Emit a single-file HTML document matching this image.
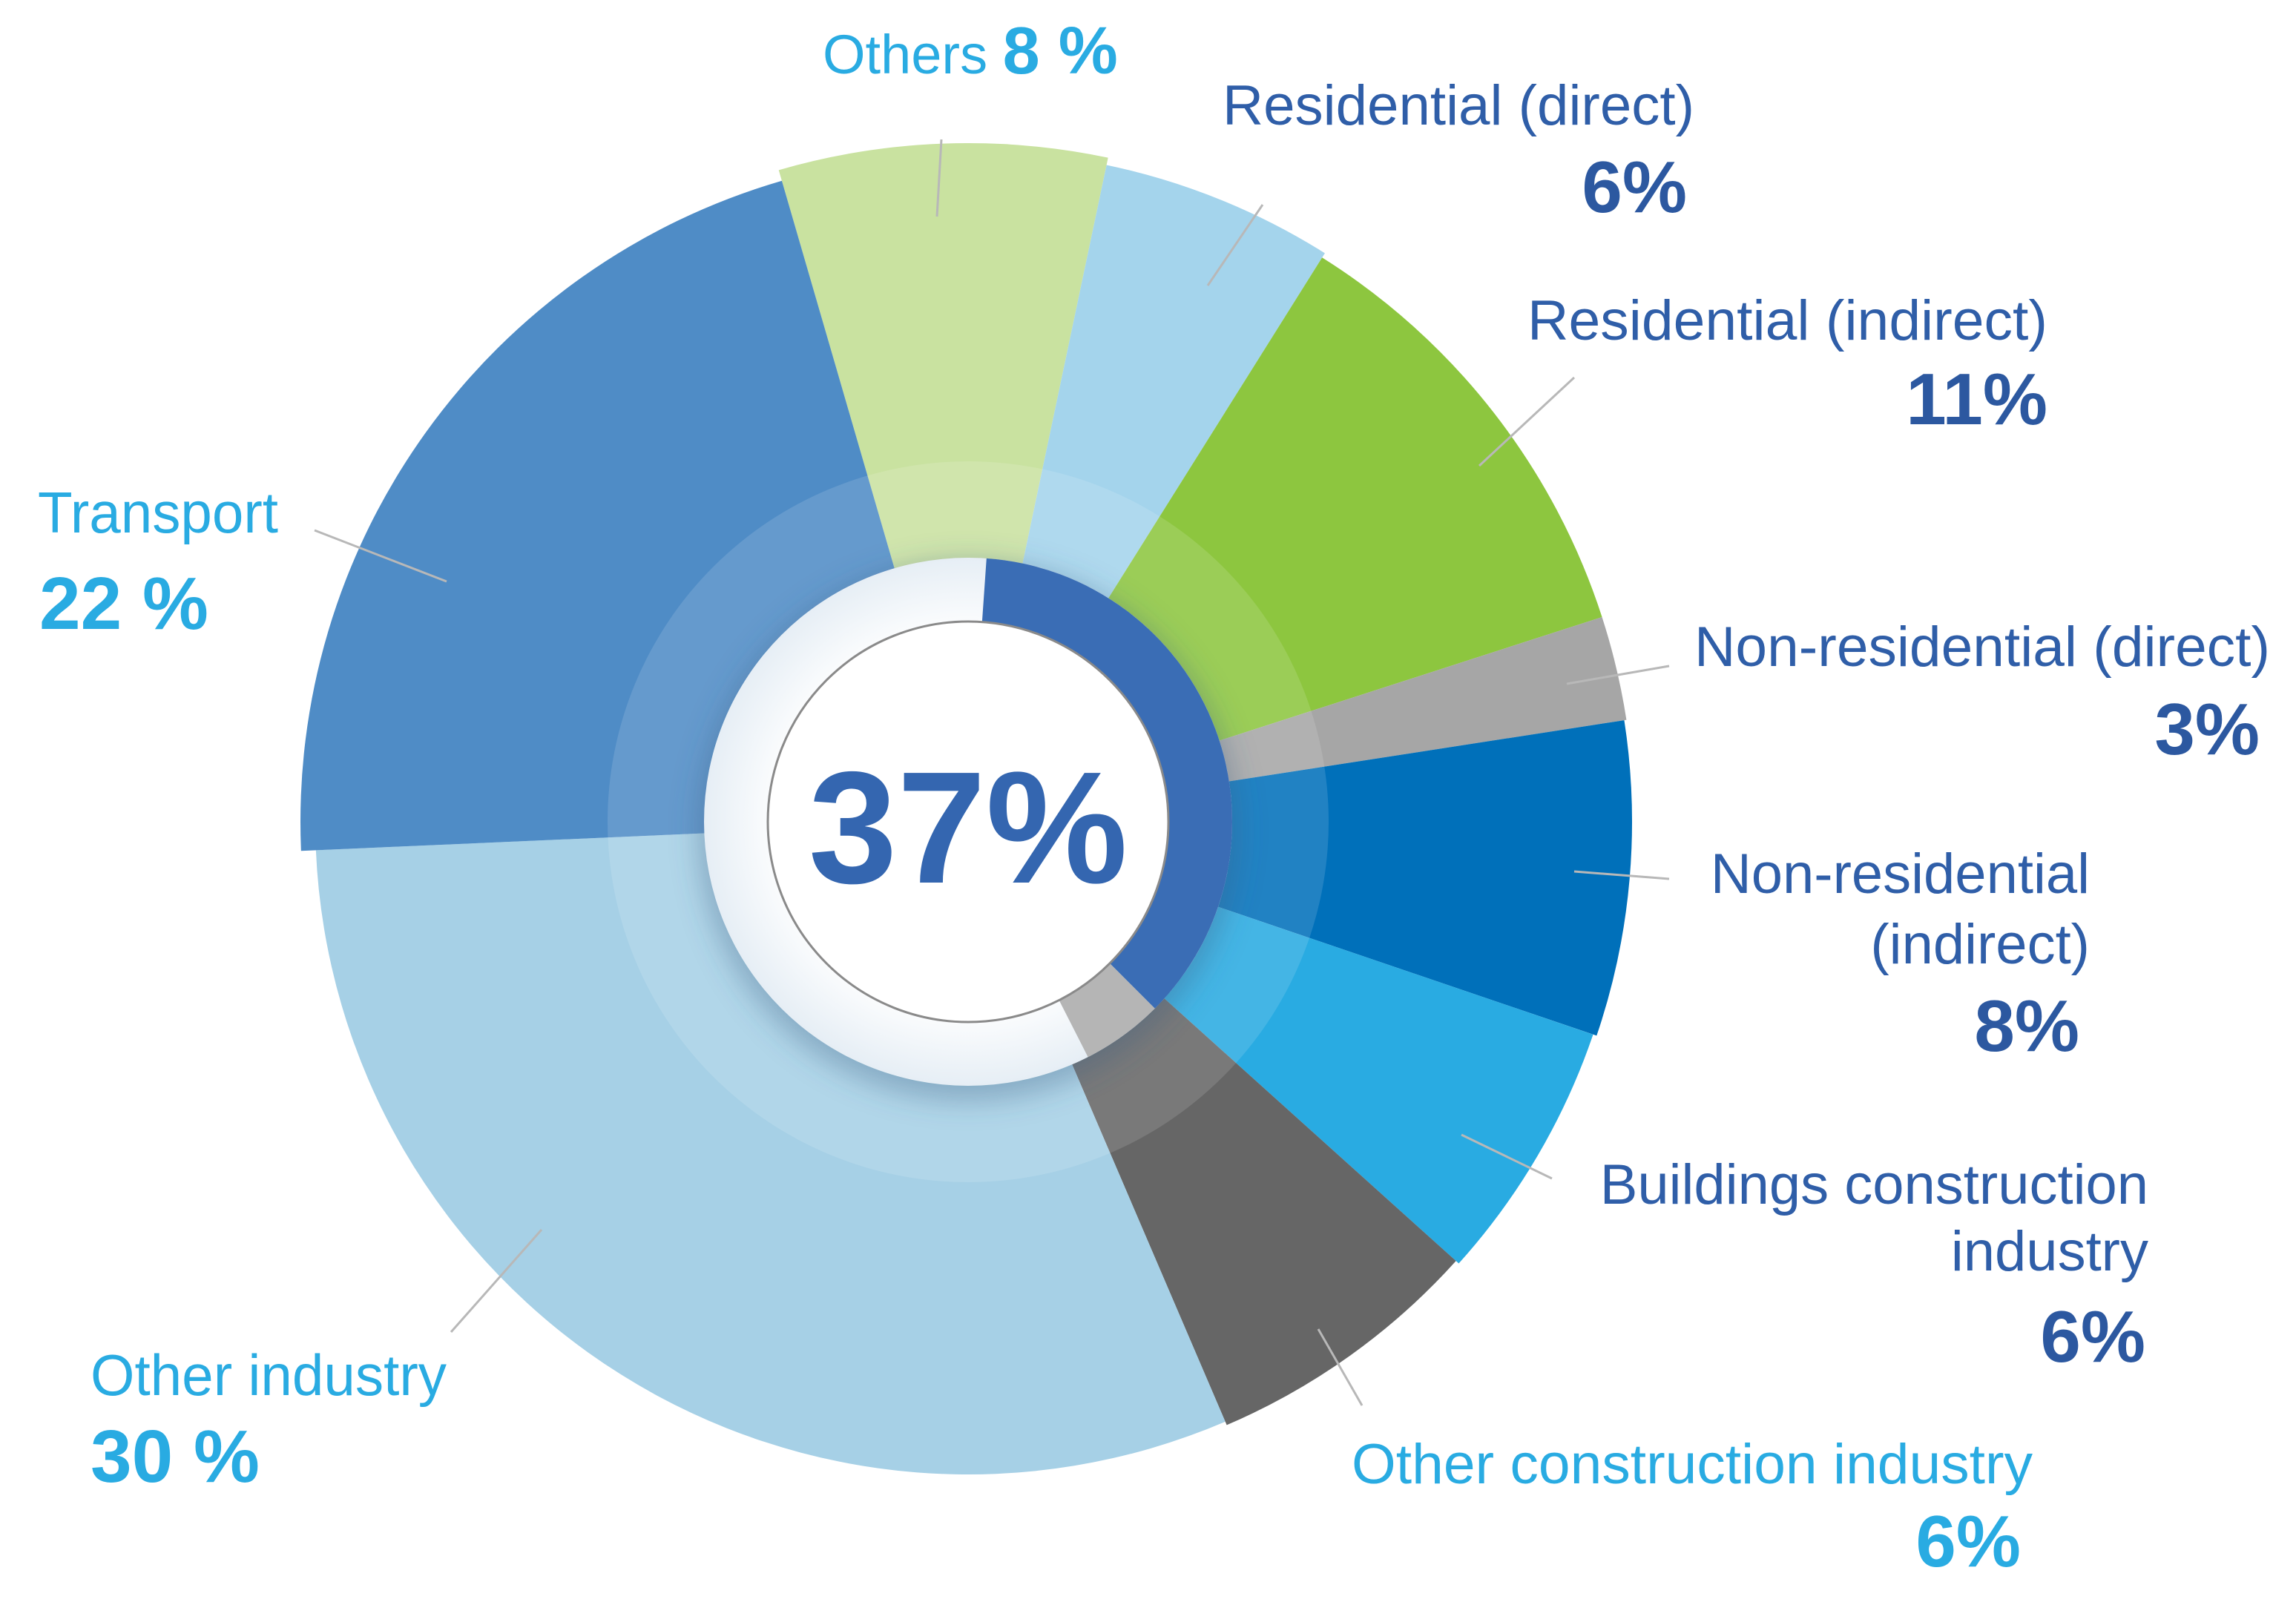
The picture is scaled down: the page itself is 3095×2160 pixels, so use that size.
<!DOCTYPE html>
<html><head><meta charset="utf-8"><style>
html,body{margin:0;padding:0;background:#fff;}
svg{display:block;font-family:"Liberation Sans",Arial,sans-serif;}
</style></head><body>
<svg id="s" width="3095" height="2160" viewBox="0 0 3095 2160" xmlns="http://www.w3.org/2000/svg">
<defs>
<filter id="sh" x="-30%" y="-30%" width="160%" height="160%"><feGaussianBlur stdDeviation="18"/></filter>
<radialGradient id="rg" cx="0.5" cy="0.5" r="0.5"><stop offset="0.7" stop-color="#ffffff"/><stop offset="1" stop-color="#e6eef5"/></radialGradient>
</defs>
<g id="wedges"></g>
<g stroke="#b8b8b8" stroke-width="3" fill="none">
<line x1="1263" y1="292" x2="1269" y2="188"/>
<line x1="1628" y1="385" x2="1702" y2="276"/>
<line x1="1994" y1="628" x2="2122" y2="509"/>
<line x1="2112" y1="922" x2="2250" y2="898"/>
<line x1="2122" y1="1175" x2="2250" y2="1185"/>
<line x1="1970" y1="1530" x2="2092" y2="1589"/>
<line x1="1777" y1="1792" x2="1836" y2="1895"/>
<line x1="730" y1="1658" x2="608" y2="1796"/>
<line x1="602" y1="784" x2="424" y2="715"/>
</g>
<g id="inner"></g>
<text x="1305" y="1190" text-anchor="middle" font-size="215" font-weight="bold" fill="#3466b0">37%</text>
<g font-size="76" fill="#2f5ea8">
<text x="1109" y="99" fill="#29abe2" font-size="74">Others <tspan font-weight="bold" font-size="90">8 %</tspan></text>
<text x="1648" y="168" textLength="636" lengthAdjust="spacingAndGlyphs">Residential (direct)</text>
<text x="2274" y="286" text-anchor="end" font-weight="bold" font-size="98" fill="#2c58a0">6%</text>
<text x="2059" y="458" textLength="701" lengthAdjust="spacingAndGlyphs">Residential (indirect)</text>
<text x="2760" y="572" text-anchor="end" font-weight="bold" font-size="98" fill="#2c58a0">11%</text>
<text x="2284" y="898" textLength="776" lengthAdjust="spacingAndGlyphs">Non-residential (direct)</text>
<text x="3046" y="1017" text-anchor="end" font-weight="bold" font-size="98" fill="#2c58a0">3%</text>
<text x="2817" y="1204" text-anchor="end">Non-residential</text>
<text x="2817" y="1299" text-anchor="end">(indirect)</text>
<text x="2803" y="1417" text-anchor="end" font-weight="bold" font-size="98" fill="#2c58a0">8%</text>
<text x="2896" y="1623" text-anchor="end">Buildings construction</text>
<text x="2896" y="1713" text-anchor="end">industry</text>
<text x="2892" y="1836" text-anchor="end" font-weight="bold" font-size="98" fill="#2c58a0">6%</text>
<text x="1822" y="2000" textLength="918" lengthAdjust="spacingAndGlyphs" fill="#29abe2">Other construction industry</text>
<text x="2724" y="2112" text-anchor="end" font-weight="bold" font-size="98" fill="#29abe2">6%</text>
<text x="51" y="718" textLength="324" lengthAdjust="spacingAndGlyphs" fill="#29abe2" font-size="78">Transport</text>
<text x="53" y="848" fill="#29abe2" font-weight="bold" font-size="100">22 %</text>
<text x="122" y="1881" textLength="480" lengthAdjust="spacingAndGlyphs" fill="#29abe2" font-size="78">Other industry</text>
<text x="122" y="1998" fill="#29abe2" font-weight="bold" font-size="100">30 %</text>
</g>
<script>
(function(){
var cx=1305,cy=1108,NS="http://www.w3.org/2000/svg";
function pt(r,a){var t=a*Math.PI/180;return [cx+r*Math.sin(t),cy-r*Math.cos(t)];}
function wedge(r,a0,a1){var p=pt(r,a0),q=pt(r,a1),l=(a1-a0)>180?1:0;
return "M"+cx+","+cy+"L"+p[0]+","+p[1]+"A"+r+","+r+" 0 "+l+" 1 "+q[0]+","+q[1]+"Z";}
function ring(r0,r1,a0,a1){var a=pt(r1,a0),b=pt(r1,a1),c=pt(r0,a1),d=pt(r0,a0),l=(a1-a0)>180?1:0;
return "M"+a+"A"+r1+","+r1+" 0 "+l+" 1 "+b+"L"+c+"A"+r0+","+r0+" 0 "+l+" 0 "+d+"Z";}
function add(g,d,f,extra){var e=document.createElementNS(NS,"path");e.setAttribute("d",d);e.setAttribute("fill",f);
if(extra)for(var k in extra)e.setAttribute(k,extra[k]);document.getElementById(g).appendChild(e);return e;}
var S=[[-16.2,11.9,915,"#c9e2a0"],[11.9,32.1,905,"#a4d4ec"],[32.1,72.1,898,"#8dc63f"],[72.1,81.2,898,"#a6a6a6"],
[81.2,108.8,895,"#0070ba"],[108.8,132,890,"#29abe2"],[132,156.8,885,"#666666"],[156.8,267.5,880,"#a6d0e6"],[267.5,343.8,900,"#4f8cc6"]];
S.forEach(function(s){add("wedges",wedge(s[2],s[0],s[1]),s[3]);});
var c=document.createElementNS(NS,"circle");c.setAttribute("cx",cx);c.setAttribute("cy",cy);c.setAttribute("r",486);
c.setAttribute("fill","#ffffff");c.setAttribute("fill-opacity","0.13");document.getElementById("inner").appendChild(c);
var s2=document.createElementNS(NS,"circle");s2.setAttribute("cx",cx);s2.setAttribute("cy",cy+12);s2.setAttribute("r",365);
s2.setAttribute("fill","#3a5f85");s2.setAttribute("fill-opacity","0.35");s2.setAttribute("filter","url(#sh)");document.getElementById("inner").appendChild(s2);
var c2=document.createElementNS(NS,"circle");c2.setAttribute("cx",cx);c2.setAttribute("cy",cy);c2.setAttribute("r",356);
c2.setAttribute("fill","url(#rg)");document.getElementById("inner").appendChild(c2);
add("inner",ring(268,356,4,135),"#3a6db5");
add("inner",ring(268,356,135,153),"#b5b5b5");
var c3=document.createElementNS(NS,"circle");c3.setAttribute("cx",cx);c3.setAttribute("cy",cy);c3.setAttribute("r",270);
c3.setAttribute("fill","#ffffff");c3.setAttribute("stroke","#8a8a8a");c3.setAttribute("stroke-width","3");document.getElementById("inner").appendChild(c3);
})();
</script>
</svg>
</body></html>
